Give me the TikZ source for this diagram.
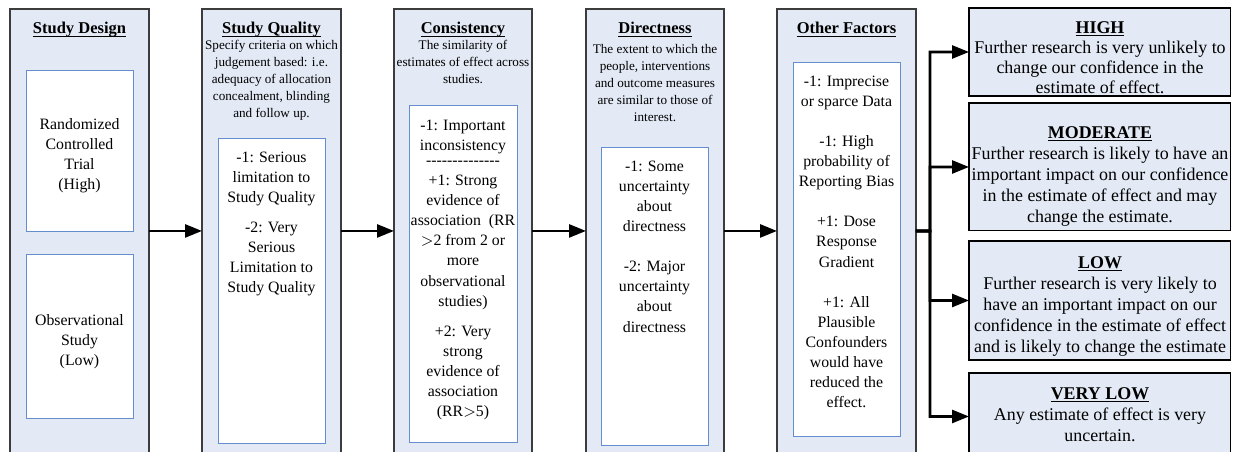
\documentclass[tikz,border=0pt]{standalone}
\usepackage{fontspec}
\setmainfont{Liberation Serif}
\usetikzlibrary{arrows.meta}
\definecolor{gradeFill}{RGB}{227,234,245}
\definecolor{gradeBlue}{RGB}{100,142,205}
\definecolor{gradeEdge}{RGB}{60,60,60}
\newcommand{\dashrow}{\foreach \k in {1,...,14}{\mbox{-}}}
\newcommand{\headline}[1]{\underline{\raisebox{0pt}[\height][0pt]{#1}}}

\begin{document}
\begin{tikzpicture}[
    x=0.02cm, y=-0.02cm,
    column/.style={rectangle, draw=gradeEdge, fill=gradeFill, line width=0.6pt, anchor=north west, inner sep=0pt, outer sep=0pt, minimum width=2.78cm, minimum height=8.88cm},
    inner/.style={rectangle, draw=gradeBlue, fill=white, line width=0.6pt, anchor=north west, inner sep=0pt, minimum width=2.14cm},
    heading/.style={anchor=base, inner sep=0pt, font=\fontsize{9.4}{11}\selectfont\bfseries},
    note/.style={anchor=north, inner sep=0pt, align=center, font=\fontsize{7.5}{9.7}\selectfont},
    entries/.style={anchor=north, inner sep=0pt, align=center, font=\fontsize{9}{11.4}\selectfont},
    grade/.style={rectangle, draw=black, fill=gradeFill, line width=0.6pt, anchor=north west, inner sep=0pt, outer sep=0pt, minimum width=5.24cm},
    gradetext/.style={anchor=north, inner sep=0pt, align=center, font=\fontsize{10.2}{12}\selectfont},
    flow/.style={line width=1.5pt, -{Triangle[length=3.4mm, width=2.6mm]}}
]
\useasboundingbox (0,0) rectangle (1233,452);
\clip (0,0) rectangle (1233,452);

% Columns
\node[column] (design)  at (10,9)  {};
\node[column] (quality) at (202,9) {};
\node[column, minimum width=2.76cm] (consist) at (394,9) {};
\node[column, minimum width=2.76cm] (direct)  at (586,9) {};
\node[column] (factors) at (777,9) {};

% Column headings
\node[heading] (designT)  at (79.5,34)  {\headline{Study Design}};
\node[heading] (qualityT) at (271.5,34) {\headline{Study Quality}};
\node[heading] (consistT) at (463,34)   {\headline{Consistency}};
\node[heading] (directT)  at (655,34)   {\headline{Directness}};
\node[heading] (factorsT) at (846.5,34) {\headline{Other Factors}};

% Column notes
\node[note] (qualityN) at (271.5,40) {Specify criteria on which\\judgement based: i.e.\\adequacy of allocation\\concealment, blinding\\and follow up.};
\node[note] (consistN) at (463,40)   {The similarity of\\estimates of effect across\\studies.};
\node[note] (directN)  at (655,44)   {The extent to which the\\people, interventions\\and outcome measures\\are similar to those of\\interest.};

% Inner boxes
\node[inner, minimum height=3.22cm] (rct) at (26,70)  {};
\node[inner, minimum height=3.28cm] (obs) at (26,254) {};
\node[inner, minimum height=6.10cm] (qualityIn) at (218,138) {};
\node[inner, minimum height=6.74cm, minimum width=2.16cm] (consistIn) at (409,105) {};
\node[inner, minimum height=5.96cm] (directIn)  at (601,147) {};
\node[inner, minimum height=7.48cm] (factorsIn) at (793,62)  {};

% Inner entries
\node[entries] (rctE) at (79.5,118) {Randomized\\Controlled\\Trial\\(High)};
\node[entries] (obsE) at (79.5,314) {Observational\\Study\\(Low)};
\node[entries] (qualityE) at (271.5,152) {-1: Serious\\limitation to\\Study Quality\\[0.2cm]-2: Very\\Serious\\Limitation to\\Study Quality};
\node[entries] (consistE) at (463,120) {-1: Important\\inconsistency\\[-0.1cm]\dashrow\\+1: Strong\\evidence of\\association~ (RR\\$>$2 from 2 or\\more\\observational\\studies)\\[0.2cm]+2: Very\\strong\\evidence of\\association\\(RR$>$5)};
\node[entries] (directE)  at (654.5,161) {-1: Some\\uncertainty\\about\\directness\\[0.4cm]-2: Major\\uncertainty\\about\\directness};
\node[entries] (factorsE) at (846.5,76) {-1: Imprecise\\or sparce Data\\[0.4cm]-1: High\\probability of\\Reporting Bias\\[0.4cm]+1: Dose\\Response\\Gradient\\[0.4cm]+1: All\\Plausible\\Confounders\\would have\\reduced the\\effect.};

% Grades of evidence
\node[grade, minimum height=1.76cm] (high)     at (969,8)   {};
\node[grade, minimum height=2.56cm] (moderate) at (969,103) {};
\node[grade, minimum height=2.38cm] (low)      at (969,241) {};
\node[grade, minimum height=1.74cm] (verylow)  at (969,373) {};
\node[gradetext, font=\fontsize{10.2}{11.4}\selectfont] (highT) at (1100,21) {\textbf{\headline{HIGH}}\\Further research is very unlikely to\\change our confidence in the\\estimate of effect.};
\node[gradetext] (moderateT) at (1100,126) {\textbf{\headline{MODERATE}}\\Further research is likely to have an\\important impact on our confidence\\in the estimate of effect and may\\change the estimate.};
\node[gradetext] (lowT)      at (1100,256) {\textbf{\headline{LOW}}\\Further research is very likely to\\have an important impact on our\\confidence in the estimate of effect\\and is likely to change the estimate};
\node[gradetext] (verylowT)  at (1100,387) {\textbf{\headline{VERY LOW}}\\Any estimate of effect is very\\uncertain.};

% Arrows between columns
\draw[flow] (design) -- (quality);
\draw[flow] (quality) -- (consist);
\draw[flow] (consist) -- (direct);
\draw[flow] (direct) -- (factors);

% Branches to the grades
\coordinate (bus) at (930,231);
\draw[flow] (factors) -- (bus) |- (high);
\draw[flow] (factors) -- (bus) |- (moderate);
\draw[flow] (factors) -- (bus) |- (low);
\draw[flow] (factors) -- (bus) |- (verylow);

\end{tikzpicture}
\end{document}
